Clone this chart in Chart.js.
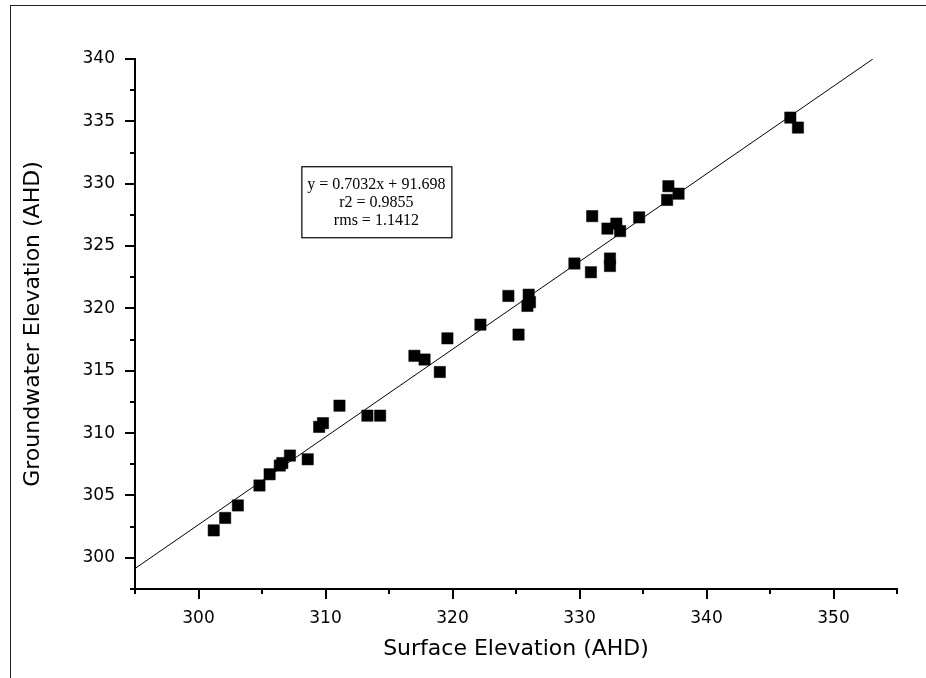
<!DOCTYPE html>
<html>
<head>
<meta charset="utf-8">
<script src="https://cdn.jsdelivr.net/npm/chart.js@4.4.1/dist/chart.umd.min.js"></script>
<style>
  html, body { margin: 0; padding: 0; background: #fff; }
  #wrap { position: relative; width: 926px; height: 678px; }
  #frame { position: absolute; left: 10px; top: 5px; right: 0; bottom: 0;
           border-top: 1px solid #222; border-left: 1px solid #222; pointer-events: none; }
</style>
</head>
<body>
<div id="wrap">
  <canvas id="chart" width="926" height="678"></canvas>
  <div id="frame"></div>
</div>
<script>
// Surface vs groundwater elevation (m AHD)
const surfaceElev = [301.2, 302.1, 303.1, 304.8, 305.6, 306.4, 306.6, 307.2, 308.6, 309.5,
                     309.8, 311.1, 313.3, 314.3, 317.0, 317.8, 319.0, 319.6, 322.2, 324.4,
                     325.2, 325.9, 326.0, 326.1, 329.6, 330.9, 331.0, 332.2, 332.4, 332.4,
                     332.9, 333.2, 334.7, 336.9, 337.0, 337.8, 346.6, 347.2];
const groundwaterElev = [302.2, 303.2, 304.2, 305.8, 306.7, 307.4, 307.6, 308.2, 307.9, 310.5,
                         310.8, 312.2, 311.4, 311.4, 316.2, 315.9, 314.9, 317.6, 318.7, 321.0,
                         317.9, 320.2, 321.1, 320.5, 323.6, 322.9, 327.4, 326.4, 323.4, 324.0,
                         326.8, 326.2, 327.3, 328.7, 329.8, 329.2, 335.3, 334.5];

// linear fit shown on the plot
const fitSlope = 0.7032;
const fitIntercept = 91.698;
const fitXRange = [295, 353.1];
const statsLines = ['y = 0.7032x + 91.698', 'r2 = 0.9855', 'rms = 1.1412'];

// axis ranges
const xRange = [295, 355];
const yRange = [297.5, 340];

const fitLine = fitXRange.map(x => ({ x: x, y: fitSlope * x + fitIntercept }));
const points = surfaceElev.map((x, i) => ({ x: x, y: groundwaterElev[i] }));

// draws outward tick marks, long at labelled values and short in between
const tickMarks = {
    id: 'tickMarks',
    afterDraw(chart) {
        const ctx = chart.ctx;
        const xs = chart.scales.x, ys = chart.scales.y;
        const area = chart.chartArea;
        ctx.save();
        ctx.strokeStyle = '#000';
        ctx.lineWidth = 2;
        xs.ticks.forEach(t => {
            const px = Math.round(xs.getPixelForValue(t.value));
            const len = t.value % 10 === 0 ? 10 : 5;
            ctx.beginPath();
            ctx.moveTo(px, area.bottom);
            ctx.lineTo(px, area.bottom + len);
            ctx.stroke();
        });
        ys.ticks.forEach(t => {
            const py = Math.round(ys.getPixelForValue(t.value));
            const len = t.value % 5 === 0 ? 10 : 5;
            ctx.beginPath();
            ctx.moveTo(area.left, py);
            ctx.lineTo(area.left - len, py);
            ctx.stroke();
        });
        ctx.restore();
    }
};

// fit statistics box
const statsBox = {
    id: 'statsBox',
    afterDraw(chart) {
        const ctx = chart.ctx;
        const opts = chart.options.plugins.statsBox;
        const left = chart.scales.x.getPixelForValue(opts.anchorX);
        const top = chart.scales.y.getPixelForValue(opts.anchorY);
        ctx.save();
        ctx.fillStyle = '#fff';
        ctx.fillRect(left, top, opts.width, opts.height);
        ctx.strokeStyle = '#000';
        ctx.lineWidth = 1.2;
        ctx.strokeRect(left + 0.5, top + 0.5, opts.width, opts.height);
        ctx.fillStyle = '#000';
        ctx.font = opts.font;
        ctx.textAlign = 'center';
        ctx.textBaseline = 'middle';
        statsLines.forEach((s, i) => {
            ctx.fillText(s, left + opts.width / 2, top + 18.5 + i * 18);
        });
        ctx.restore();
    }
};

new Chart(document.getElementById('chart'), {
    type: 'scatter',
    data: {
        datasets: [
            {
                label: 'Fit',
                type: 'line',
                data: fitLine,
                borderColor: '#000',
                borderWidth: 1,
                pointRadius: 0,
                fill: false,
                order: 2
            },
            {
                label: 'Bores',
                data: points,
                pointStyle: 'rect',
                pointRadius: 8,
                pointBackgroundColor: '#000',
                pointBorderColor: '#000',
                pointBorderWidth: 0.5,
                order: 1
            }
        ]
    },
    options: {
        responsive: false,
        animation: false,
        devicePixelRatio: 1,
        layout: { padding: { top: 59, right: 29, left: 0, bottom: 0 } },
        plugins: {
            legend: { display: false },
            tooltip: { enabled: false },
            statsBox: { anchorX: 308.1, anchorY: 331.4, width: 150, height: 71,
                        font: '16px "Liberation Serif", "Times New Roman", serif' }
        },
        scales: {
            x: {
                type: 'linear',
                min: xRange[0],
                max: xRange[1],
                afterFit: s => { s.height = 89; },
                border: { display: true, color: '#000', width: 2 },
                grid: { display: false, drawTicks: false },
                ticks: {
                    stepSize: 5,
                    padding: 19,
                    color: '#000',
                    maxRotation: 0,
                    autoSkip: false,
                    font: { family: '"DejaVu Sans"', size: 17 },
                    callback: v => (v % 10 === 0 ? v : '')
                },
                title: {
                    display: true,
                    text: 'Surface Elevation (AHD)',
                    color: '#000',
                    font: { family: '"DejaVu Sans"', size: 22 },
                    padding: { top: 0, bottom: 16 }
                }
            },
            y: {
                type: 'linear',
                min: yRange[0],
                max: yRange[1],
                afterFit: s => { s.width = 135; },
                border: { display: true, color: '#000', width: 2 },
                grid: { display: false, drawTicks: false },
                ticks: {
                    stepSize: 2.5,
                    padding: 20,
                    color: '#000',
                    autoSkip: false,
                    font: { family: '"DejaVu Sans"', size: 17 },
                    callback: v => (v % 5 === 0 ? v : '')
                },
                title: {
                    display: true,
                    text: 'Groundwater Elevation (AHD)',
                    color: '#000',
                    font: { family: '"DejaVu Sans"', size: 22 },
                    padding: { top: 20, bottom: 0 }
                }
            }
        }
    },
    plugins: [tickMarks, statsBox]
});
</script>
</body>
</html>
